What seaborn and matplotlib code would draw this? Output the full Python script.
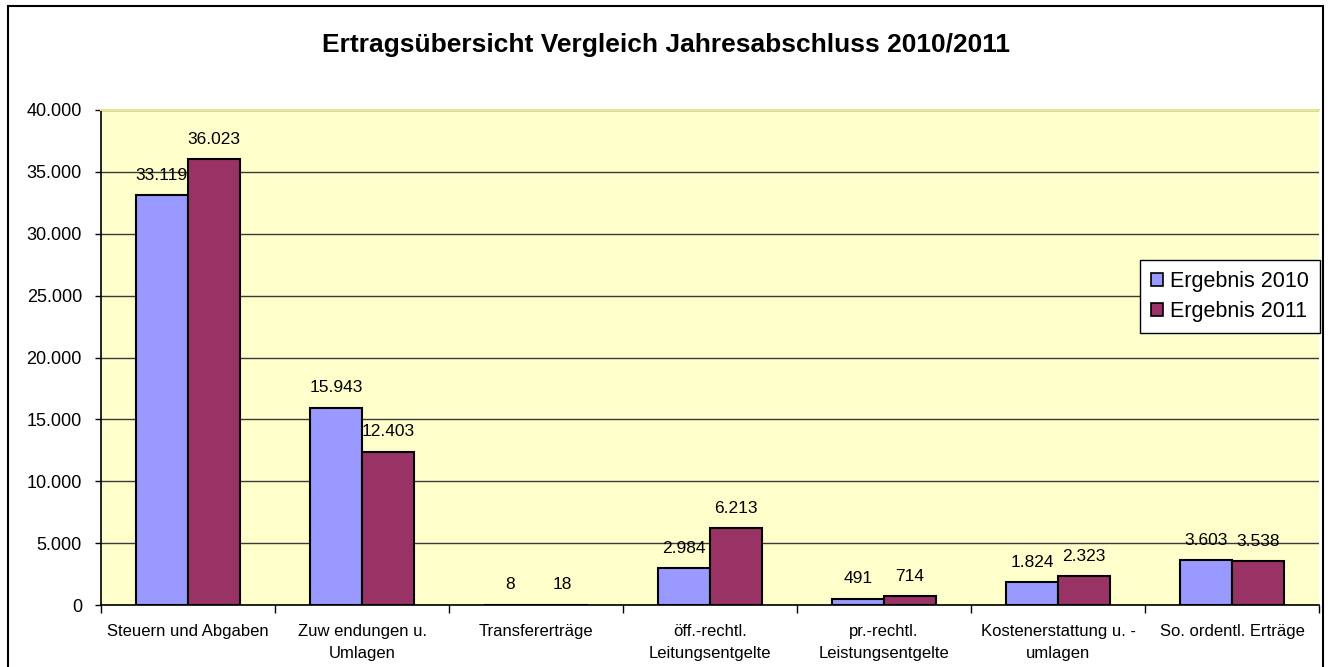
import matplotlib
matplotlib.use("Agg")
import matplotlib.pyplot as plt
import seaborn as sns
import pandas as pd
from matplotlib.patches import Rectangle
from matplotlib.ticker import FuncFormatter, FixedLocator

categories = [
    "Steuern und Abgaben",
    "Zuw endungen u.\nUmlagen",
    "Transfererträge",
    "öff.-rechtl.\nLeitungsentgelte",
    "pr.-rechtl.\nLeistungsentgelte",
    "Kostenerstattung u. -\numlagen",
    "So. ordentl. Erträge",
]
series_names = ["Ergebnis 2010", "Ergebnis 2011"]
values_2010 = [33119, 15943, 8, 2984, 491, 1824, 3603]
values_2011 = [36023, 12403, 18, 6213, 714, 2323, 3538]
title = "Ertragsübersicht Vergleich Jahresabschluss 2010/2011"

colors = ["#9999FF", "#993366"]

df = pd.DataFrame({
    "Kategorie": categories * 2,
    "Wert": values_2010 + values_2011,
    "Serie": [series_names[0]] * len(categories) + [series_names[1]] * len(categories),
})

sns.set_style("white")
plt.rcParams["font.family"] = ["Liberation Sans", "DejaVu Sans"]
plt.rcParams["text.color"] = "black"
plt.rcParams["xtick.color"] = "black"
plt.rcParams["ytick.color"] = "black"

fig = plt.figure(figsize=(13.32, 6.67), dpi=100)
ax = fig.add_axes([101 / 1332, 1 - 605 / 667, (1319 - 101) / 1332, (605 - 110) / 667])
ax.set_facecolor("#FFFFCC")

sns.barplot(data=df, x="Kategorie", y="Wert", hue="Serie", palette=colors,
            order=categories, hue_order=series_names, saturation=1,
            width=0.6, edgecolor="black", linewidth=1.5, ax=ax, zorder=3,
            legend=True)

ax.set_xlim(-0.5, len(categories) - 0.5)
ax.set_ylim(0, 40000)
ax.set_yticks(range(0, 40001, 5000))
fmt = lambda v, p: f"{int(v):,}".replace(",", ".")
ax.yaxis.set_major_formatter(FuncFormatter(fmt))
ax.yaxis.grid(True, color="#3a3a3a", linewidth=1.0, zorder=0)
ax.set_axisbelow(True)

ax.set_xticks(range(len(categories)))
ax.set_xticklabels(categories, linespacing=1.55)

ax.tick_params(axis="y", which="major", direction="out", length=4.5, width=1,
               color="black", labelcolor="black", labelsize=13, pad=9.2, left=True)
ax.tick_params(axis="x", which="major", length=0, labelsize=12, pad=14,
               labelcolor="black")
ax.xaxis.set_minor_locator(FixedLocator([i - 0.5 for i in range(len(categories) + 1)]))
ax.tick_params(axis="x", which="minor", direction="out", length=6, width=1,
               color="black", bottom=True)
ax.set_xlabel("")
ax.set_ylabel("")

for s in ["left", "bottom"]:
    ax.spines[s].set_visible(True)
    ax.spines[s].set_color("black")
    ax.spines[s].set_linewidth(1.2)
ax.spines["top"].set_visible(True)
ax.spines["top"].set_color("#E6E68A")
ax.spines["top"].set_linewidth(1.5)
ax.spines["right"].set_visible(False)

for container in ax.containers:
    labels = [fmt(b.get_height(), None) for b in container]
    ax.bar_label(container, labels=labels, padding=9, fontsize=12.5, color="black")

leg = ax.legend(loc="upper left", bbox_to_anchor=(1140 / 1332, 1 - 260 / 667),
                bbox_transform=fig.transFigure, frameon=True, fancybox=False,
                fontsize=15.5, handlelength=0.55, handleheight=0.55, handletextpad=0.35,
                borderpad=0.5, labelspacing=0.45, borderaxespad=0)
leg.get_frame().set_edgecolor("black")
leg.get_frame().set_linewidth(1.0)
leg.get_frame().set_facecolor("white")
leg.get_frame().set_alpha(1)
for h in leg.legend_handles:
    h.set_edgecolor("black")
    h.set_linewidth(1.2)
for t in leg.get_texts():
    t.set_color("black")

fig.text(666 / 1332, 1 - 45 / 667, title, ha="center", va="center",
         fontsize=19, fontweight="bold", color="black")

fig.patches.append(Rectangle((7.5 / 1332, -0.05), (1322.5 - 7.5) / 1332, 1.05 - 5.5 / 667,
                             transform=fig.transFigure, fill=False,
                             edgecolor="black", linewidth=1.5, zorder=10))

fig.savefig("out.png", dpi=100)
